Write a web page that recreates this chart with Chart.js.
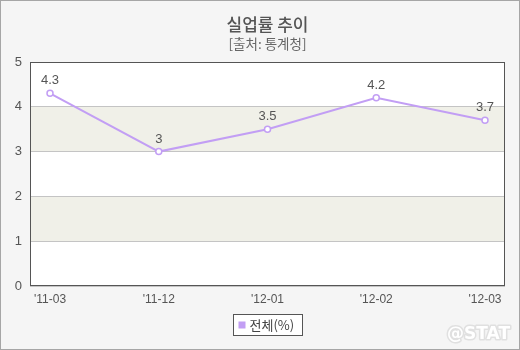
<!DOCTYPE html>
<html>
<head>
<meta charset="utf-8">
<script src="https://cdn.jsdelivr.net/npm/chart.js@4.4.1/dist/chart.umd.min.js"></script>
<style>
  html, body { margin: 0; padding: 0; background: #f5f5f5; }
  #wrap { width: 520px; height: 350px; position: relative; }
</style>
</head>
<body>
<div id="wrap"><canvas id="c" width="520" height="350"></canvas></div>
<script>
// Unemployment rate trend (source: Statistics Korea)
const categories = ["'11-03", "'11-12", "'12-01", "'12-02", "'12-03"];
const totalRate = [4.3, 3.0, 3.5, 4.2, 3.7];
const yTicks = [0, 1, 2, 3, 4, 5];
const seriesLabel = '전체(%)';
const titleText = '실업률 추이';
const subtitleText = '[출처: 통계청]';

const KR = '"Noto Sans CJK KR", "Noto Sans", sans-serif';
const LAT = '"Liberation Sans", Arial, sans-serif';
const lineColor = '#c29ef4';

const decor = {
  id: 'decor',
  beforeDraw(chart) {
    const { ctx, chartArea: a, scales: { y } } = chart;
    ctx.save();
    ctx.fillStyle = '#f5f5f5';
    ctx.fillRect(0, 0, chart.width, chart.height);
    ctx.strokeStyle = '#a6a6a6';
    ctx.lineWidth = 1;
    ctx.strokeRect(0.5, 0.5, chart.width - 1, chart.height - 1);
    ctx.fillStyle = '#ffffff';
    ctx.fillRect(a.left, a.top, a.right - a.left, a.bottom - a.top);
    // alternating bands
    ctx.fillStyle = '#f0f0e8';
    [[1, 2], [3, 4]].forEach(([lo, hi]) => {
      const t = y.getPixelForValue(hi), b = y.getPixelForValue(lo);
      ctx.fillRect(a.left, t, a.right - a.left, b - t);
    });
    // title block centred over the plot
    const cx = (a.left + a.right) / 2;
    ctx.textAlign = 'center';
    ctx.textBaseline = 'middle';
    ctx.fillStyle = '#555555';
    ctx.font = '500 17px ' + KR;
    ctx.fillText(titleText, cx, 25);
    ctx.fillStyle = '#666666';
    ctx.font = '13.5px ' + KR;
    ctx.fillText(subtitleText, cx, 44);
    ctx.restore();
  },
  afterDatasetsDraw(chart) {
    const { ctx, chartArea: a } = chart;
    ctx.save();
    // plot frame
    ctx.strokeStyle = '#555555';
    ctx.lineWidth = 1;
    ctx.strokeRect(Math.round(a.left) + 0.5, Math.round(a.top) + 0.5,
      Math.round(a.right - a.left) - 1, Math.round(a.bottom - a.top) - 1);
    // value labels
    const meta = chart.getDatasetMeta(0);
    ctx.fillStyle = '#555555';
    ctx.font = '13px ' + LAT;
    ctx.textAlign = 'center';
    ctx.textBaseline = 'bottom';
    meta.data.forEach((pt, i) => {
      ctx.fillText(String(totalRate[i]), pt.x, pt.y - 6);
    });
    // legend box
    const ds = chart.data.datasets[0];
    ctx.font = '13px ' + KR;
    const tw = ctx.measureText(ds.label).width;
    const bw = 69, bh = 21;
    const bx = 233.5, by = 314.5;
    ctx.fillStyle = '#ffffff';
    ctx.fillRect(bx, by, bw, bh);
    ctx.strokeStyle = '#555555';
    ctx.strokeRect(bx, by, bw, bh);
    ctx.fillStyle = ds.borderColor;
    ctx.fillRect(bx + 5, by + 7, 7, 7);
    ctx.fillStyle = '#444444';
    ctx.textAlign = 'left';
    ctx.textBaseline = 'middle';
    ctx.fillText(ds.label, bx + 16, by + bh / 2 + 0.5, bw - 20);
    // watermark
    ctx.font = 'bold 17px "DejaVu Sans", sans-serif';
    ctx.textAlign = 'right';
    ctx.lineJoin = 'round';
    ctx.lineWidth = 3;
    ctx.strokeStyle = '#e0e0e0';
    ctx.strokeText('@STAT', 510, 335);
    ctx.fillStyle = '#ffffff';
    ctx.fillText('@STAT', 510, 335);
    ctx.restore();
  }
};

new Chart(document.getElementById('c'), {
  type: 'line',
  data: {
    datasets: [{
      label: seriesLabel,
      data: totalRate.map((v, i) => ({ x: i, y: v })),
      borderColor: lineColor,
      backgroundColor: '#ffffff',
      borderWidth: 2,
      pointRadius: 3,
      pointBorderWidth: 1.5,
      pointBackgroundColor: '#ffffff',
      pointBorderColor: lineColor,
      tension: 0
    }]
  },
  options: {
    responsive: false,
    animation: false,
    layout: { padding: { top: 62, right: 15, left: 0, bottom: 0 } },
    plugins: {
      legend: { display: false },
      title: { display: false },
      tooltip: { enabled: false }
    },
    scales: {
      x: {
        type: 'linear',
        min: -0.184,
        max: categories.length - 1 + 0.184,
        afterBuildTicks(s) { s.ticks = categories.map((_, i) => ({ value: i })); },
        afterFit(s) { s.height = 64; },
        grid: { display: false, drawTicks: false },
        border: { display: false },
        ticks: {
          padding: 6,
          color: '#555555',
          font: { size: 12, family: LAT },
          maxRotation: 0,
          callback: (v) => categories[v]
        }
      },
      y: {
        min: yTicks[0],
        max: yTicks[yTicks.length - 1],
        afterBuildTicks(s) { s.ticks = yTicks.map(v => ({ value: v })); },
        afterFit(s) { s.width = 30; },
        grid: { color: '#c4c4c4', drawTicks: false, lineWidth: 1 },
        border: { display: false },
        ticks: {
          padding: 8,
          color: '#555555',
          font: { size: 13, family: LAT }
        }
      }
    }
  },
  plugins: [decor]
});
</script>
</body>
</html>
